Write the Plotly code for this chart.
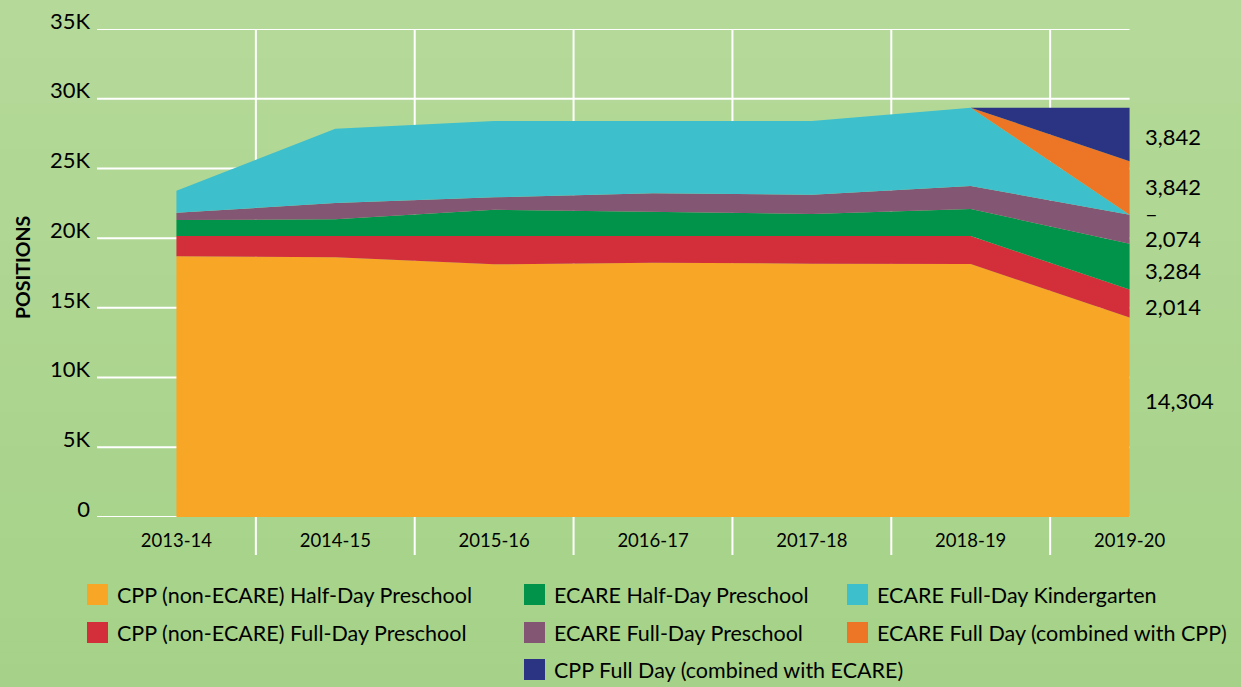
import plotly.graph_objects as go

# ---------------- data ----------------
years = ["2013-14", "2014-15", "2015-16", "2016-17", "2017-18", "2018-19", "2019-20"]
cpp_half_day = [18700, 18630, 18120, 18240, 18170, 18150, 14304]
cpp_full_day = [1450, 1520, 2030, 1940, 2010, 2000, 2014]
ecare_half_day = [1150, 1200, 1890, 1700, 1550, 1940, 3284]
ecare_full_day_pre = [520, 1170, 890, 1340, 1390, 1650, 2074]
ecare_full_day_k = [1580, 5330, 5470, 5160, 5280, 5620, 0]
ecare_full_combined = [0, 0, 0, 0, 0, 0, 3842]
cpp_full_combined = [0, 0, 0, 0, 0, 0, 3842]

series_names = [
    "CPP (non-ECARE) Half-Day Preschool",
    "CPP (non-ECARE) Full-Day Preschool",
    "ECARE Half-Day Preschool",
    "ECARE Full-Day Preschool",
    "ECARE Full-Day Kindergarten",
    "ECARE Full Day (combined with CPP)",
    "CPP Full Day (combined with ECARE)",
]
series_values = [cpp_half_day, cpp_full_day, ecare_half_day, ecare_full_day_pre,
                 ecare_full_day_k, ecare_full_combined, cpp_full_combined]
colors = ["#F8A626", "#D32F3B", "#02934A", "#835674", "#3EBFCC", "#EC7626", "#2B3383"]

y_ticks = [0, 5000, 10000, 15000, 20000, 25000, 30000, 35000]
y_ticktext = ["0", "5K", "10K", "15K", "20K", "25K", "30K", "35K"]

# end-of-series labels (text) and their vertical placement (data units)
end_labels = ["3,842", "3,842", "–", "2,074", "3,284", "2,014", "14,304"]
end_label_y = [27270, 23690, 21750, 19990, 17700, 15080, 8340]

FONT = "Lato"

# ---------------- geometry helpers ----------------
W, H = 1241, 687
L, R, T, B = 97, 1209, 29, 517


def px_x(p):
    return (p - L) / (R - L)


def px_y(p):
    return (B - p) / (B - T)


x = list(range(len(years)))

fig = go.Figure()
for name, vals, col in zip(series_names, series_values, colors):
    fig.add_trace(go.Scatter(
        x=x, y=vals, name=name, mode="lines",
        stackgroup="one", line=dict(width=0, color=col),
        fillcolor=col, showlegend=False,
    ))

shapes = []
# background gradient
top_rgb = (181, 217, 153)
bot_rgb = (165, 210, 136)
n = 60
for i in range(n):
    t = i / (n - 1)
    c = tuple(round(top_rgb[k] + (bot_rgb[k] - top_rgb[k]) * t) for k in range(3))
    y0 = i * H / n
    y1 = (i + 1) * H / n + 1
    shapes.append(dict(type="rect", xref="paper", yref="paper",
                       x0=px_x(-5), x1=px_x(W + 5), y0=px_y(y0), y1=px_y(y1),
                       fillcolor="rgb(%d,%d,%d)" % c, line=dict(width=0), layer="below"))

# vertical separators between categories (extend below axis)
for i in range(len(years) - 1):
    shapes.append(dict(type="line", xref="x", yref="paper", x0=i + 0.5, x1=i + 0.5,
                       y0=px_y(555), y1=1, line=dict(color="white", width=2), layer="below"))
# horizontal gridlines
for v in y_ticks:
    shapes.append(dict(type="line", xref="x", yref="y", x0=-0.5, x1=len(years) - 1,
                       y0=v, y1=v, line=dict(color="white", width=2), layer="below"))

annotations = []
# y-axis title
annotations.append(dict(text="<b>POSITIONS</b>", xref="paper", yref="paper",
                        x=px_x(22), y=px_y(268), textangle=-90, showarrow=False,
                        font=dict(family=FONT, size=19.5, color="black"),
                        xanchor="center", yanchor="middle"))
# end labels
for txt, yv in zip(end_labels, end_label_y):
    annotations.append(dict(text=txt, xref="paper", yref="y", x=px_x(1143), y=yv,
                            showarrow=False, xanchor="left", yanchor="middle",
                            font=dict(family=FONT, size=22, color="black")))

# manual legend
legend_layout = [  # (series index, column, row)
    (0, 0, 0), (2, 1, 0), (4, 2, 0),
    (1, 0, 1), (3, 1, 1), (5, 2, 1),
    (6, 1, 2),
]
col_sw_x = [87, 524, 847]
row_cy = [594.5, 632.5, 669.5]
for si, c, r in legend_layout:
    sx = col_sw_x[c]
    cy = row_cy[r]
    shapes.append(dict(type="rect", xref="paper", yref="paper",
                       x0=px_x(sx), x1=px_x(sx + 21), y0=px_y(cy + 10.5), y1=px_y(cy - 10.5),
                       fillcolor=colors[si], line=dict(width=0)))
    annotations.append(dict(text=series_names[si], xref="paper", yref="paper",
                            x=px_x(sx + 28), y=px_y(cy), xanchor="left", yanchor="middle",
                            showarrow=False, font=dict(family=FONT, size=21.5, color="black")))

fig.update_layout(
    width=W, height=H,
    margin=dict(l=L, r=W - R, t=T, b=H - B, pad=0, autoexpand=False),
    paper_bgcolor="rgb(173,213,144)",
    plot_bgcolor="rgba(0,0,0,0)",
    showlegend=False,
    shapes=shapes,
    annotations=annotations,
    xaxis=dict(range=[-0.5, len(years) - 0.5], tickvals=x, ticktext=years,
               showgrid=False, zeroline=False, showline=False, ticks="",
               tickfont=dict(family=FONT, size=18.5, color="black"),
               ticklabelstandoff=10, fixedrange=True, automargin=False),
    yaxis=dict(range=[0, 35000], tickvals=y_ticks, ticktext=y_ticktext,
               showgrid=False, zeroline=False, showline=False, ticks="",
               tickfont=dict(family=FONT, size=22, color="black"),
               ticklabelstandoff=6, ticklabelshift=-8, fixedrange=True, automargin=False),
)

fig.write_html("out.html", config={"displayModeBar": False},
               post_script="document.body.style.margin='0';document.body.style.overflow='hidden';")
